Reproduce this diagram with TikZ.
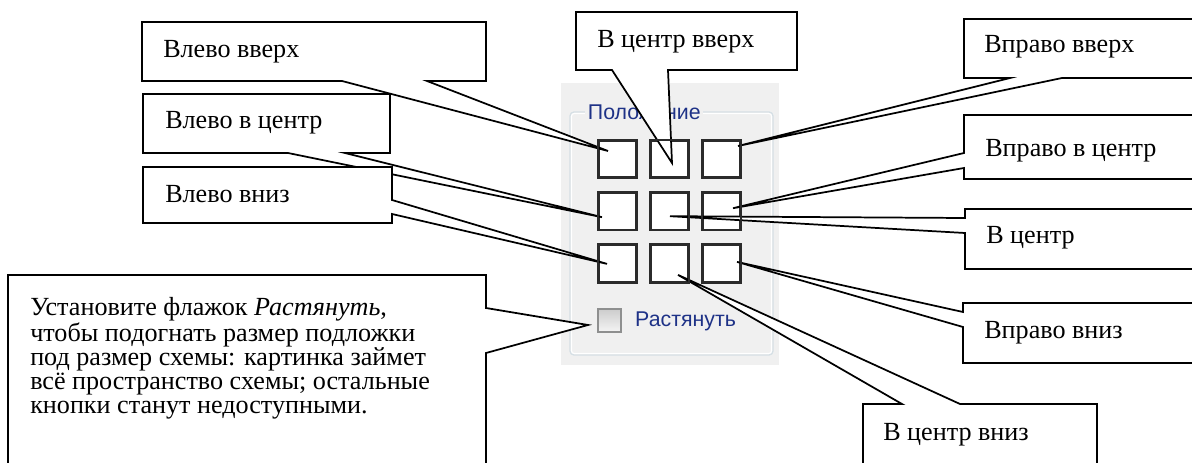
\documentclass[tikz,border=0pt]{standalone}
\usepackage{fontspec}
\setmainfont{Liberation Serif}
\newfontfamily\uifont{Liberation Sans}
\usetikzlibrary{calc}
\definecolor{panelGray}{HTML}{F0F0F0}
\definecolor{frameBlue}{HTML}{D5DFE5}
\definecolor{uiText}{HTML}{1E3287}
\definecolor{cellLine}{HTML}{2B2B2B}
\definecolor{checkEdge}{HTML}{8E8F8F}

\tikzset{
  callout/.style={draw, fill=white, line width=1.3pt, line join=miter},
  calltext/.style={anchor=base west, inner sep=0pt, font=\fontsize{19.6}{17.85}\selectfont},
  cell/.style={draw=cellLine, fill=white, line width=1.4pt, minimum width=27.8pt, minimum height=27.4pt, inner sep=0pt},
  uilabel/.style={inner sep=0pt, text=uiText, font=\uifont\fontsize{16}{18}\selectfont},
}

\begin{document}
\begin{tikzpicture}[x=0.75pt, y=-0.75pt]
  \clip (0,0) rectangle (1192,463);
  \fill[white] (0,0) rectangle (1192,463);

  % panel from the dialog
  \fill[panelGray] (561,83) rectangle (779,365);
  \draw[frameBlue, line width=1pt, rounded corners=3pt] (570,112) rectangle (773,355);
  \draw[white, line width=0.8pt, rounded corners=2pt] (571.5,113.5) rectangle (771.5,353.5);
  \node[uilabel, fill=panelGray, inner xsep=2pt, anchor=west] (pos) at (585,112) {Положение};
  \foreach \r in {1,2,3}
    \foreach \c in {1,2,3}
      \node[cell] (s-\r-\c) at ({565.5+52*\c},{106.8+52.2*\r}) {};
  \node[draw=checkEdge, line width=1.2pt, top color=gray!40, bottom color=gray!8,
        minimum size=17.5pt, inner sep=0pt] (chk) at (609.5,320.5) {};
  \node[uilabel, anchor=west] (stretch) at ($(chk.east)+(13,1)$) {Растянуть};

  % ends of the callouts
  \coordinate (tip-lu) at ($(s-1-1.center)+(-9.5,-8)$);
  \coordinate (tip-cu) at ($(s-1-2.center)+(2.5,4)$);
  \coordinate (tip-ru) at ($(s-1-3.center)+(16.5,-13)$);
  \coordinate (tip-lc) at ($(s-2-1.center)+(-15.5,6)$);
  \coordinate (tip-cc) at ($(s-2-2.center)+(0.5,5)$);
  \coordinate (tip-rc) at ($(s-2-3.center)+(11.5,-3)$);
  \coordinate (tip-ld) at ($(s-3-1.center)+(-10.5,0.5)$);
  \coordinate (tip-cd) at ($(s-3-2.center)+(8.5,11.5)$);
  \coordinate (tip-rd) at ($(s-3-3.center)+(15.5,-1.5)$);
  \coordinate (tip-chk) at ($(chk.center)+(-21.5,4.5)$);

  % callouts, left side
  \draw[callout] (142,22) -- (486,22) -- (486,81) -- (427,81) -- (tip-lu) -- (342,81) -- (142,81) -- cycle;
  \node[calltext] (lu) at (163,58) {Влево вверх};
  \draw[callout] (143,94) -- (390,94) -- (390,153) -- (345,153) -- (tip-lc) -- (288,153) -- (143,153) -- cycle;
  \node[calltext] (lc) at (165,129) {Влево в центр};
  \draw[callout] (143,167) -- (392,167) -- (392,200) -- (tip-ld) -- (392,214) -- (392,223) -- (143,223) -- cycle;
  \node[calltext] (ld) at (165,203) {Влево вниз};
  \draw[callout] (8,275) -- (486,275) -- (486,308) -- (tip-chk) -- (486,353) -- (486,475) -- (8,475) -- cycle;
  \node[calltext, align=left] (note) at (30,413) {Установите флажок \textit{Растянуть},\\
    чтобы подогнать размер подложки\\
    под размер схемы: картинка займет\\
    всё пространство схемы; остальные\\
    кнопки станут недоступными.};

  % callouts, top and right side
  \draw[callout] (576,12) -- (797,12) -- (797,70) -- (668,70) -- (tip-cu) -- (612,70) -- (576,70) -- cycle;
  \node[calltext] (cu) at (597,47.5) {В центр вверх};
  \draw[callout] (964,19) -- (1200,19) -- (1200,78) -- (1062,78) -- (tip-ru) -- (1010,78) -- (964,78) -- cycle;
  \node[calltext] (ru) at (984,53) {Вправо вверх};
  \draw[callout] (964,115) -- (1200,115) -- (1200,179) -- (964,179) -- (964,168) -- (tip-rc) -- (964,153) -- cycle;
  \node[calltext] (rc) at (985,157) {Вправо в центр};
  \draw[callout] (965,209) -- (1200,209) -- (1200,269) -- (965,269) -- (965,233) -- (tip-cc) -- (965,218) -- cycle;
  \node[calltext] (cc) at (986,244) {В центр};
  \draw[callout] (963,303) -- (1200,303) -- (1200,363) -- (963,363) -- (963,327) -- (tip-rd) -- (963,312) -- cycle;
  \node[calltext] (rd) at (984,338) {Вправо вниз};
  \draw[callout] (863,404) -- (902,404) -- (tip-cd) -- (960,404) -- (1097,404) -- (1097,475) -- (863,475) -- cycle;
  \node[calltext] (cd) at (883,440) {В центр вниз};

  % cell edges stay on top of the pointers
  \foreach \r in {1,2,3}
    \foreach \c in {1,2,3}
      \draw[cellLine, line width=1.4pt] (s-\r-\c.north west) rectangle (s-\r-\c.south east);
\end{tikzpicture}
\end{document}
